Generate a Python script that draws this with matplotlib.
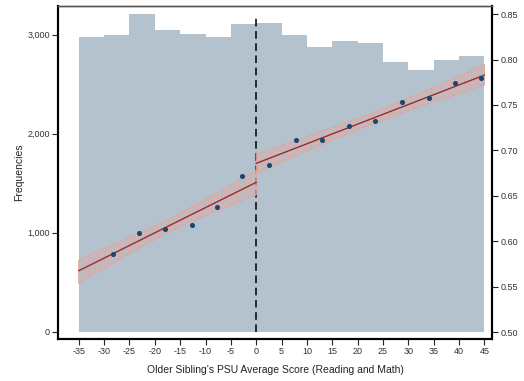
import numpy as np
import matplotlib
matplotlib.use('Agg')
import matplotlib.pyplot as plt
from matplotlib.ticker import FuncFormatter

plt.rcParams['font.family'] = ['Liberation Sans', 'DejaVu Sans']
plt.rcParams['hatch.linewidth'] = 0.6

# --- данные ---
bin_left = [-35, -30, -25, -20, -15, -10, -5, 0, 5, 10, 15, 20, 25, 30, 35, 40]
bin_counts = [2977, 2997, 3209, 3047, 3007, 2977, 3108, 3118,
              3000, 2876, 2936, 2916, 2724, 2643, 2744, 2785]

pt_x = [-28.2, -23.1, -17.9, -12.65, -7.66, -2.73, 2.44, 7.76,
        13.0, 18.3, 23.4, 28.8, 34.0, 39.2, 44.4]
pt_y = [0.5855, 0.6093, 0.6137, 0.6174, 0.6372, 0.6714, 0.6841, 0.7113,
        0.7113, 0.7264, 0.7326, 0.7528, 0.7572, 0.7744, 0.7792]

fit_left_x = [-35, -26.25, -17.5, -8.75, 0]
fit_left_y = [0.5675, 0.5918, 0.6162, 0.6405, 0.6648]
fit_left_lo = [0.5536, 0.5823, 0.6092, 0.6310, 0.6510]
fit_left_hi = [0.5792, 0.6013, 0.6232, 0.6500, 0.6780]

fit_right_x = [0, 11.25, 22.5, 33.75, 45]
fit_right_y = [0.6857, 0.7100, 0.7343, 0.7586, 0.7829]
fit_right_lo = [0.6750, 0.7025, 0.7283, 0.7511, 0.7718]
fit_right_hi = [0.6959, 0.7175, 0.7403, 0.7661, 0.7946]

x_ticks = list(range(-35, 50, 5))

hist_color = '#b3c2cd'
band_edge = '#dfa8a2'
line_color = '#9e2a2b'
pt_color = '#1a476f'

fig = plt.figure(figsize=(5.24, 3.81), dpi=100)
ax = fig.add_axes([0.1107, 0.1102, 0.8282, 0.8741])
ax2 = ax.twinx()

# гистограмма
ax.bar(bin_left, bin_counts, width=5, align='edge', color=hist_color,
       edgecolor='none', linewidth=0)
ax.vlines(0, 0, 3190, colors='black', linestyles=(0, (5, 3)), lw=1.1, zorder=3)

ax.set_xlim(-39.1, 46.5)
ax.set_ylim(-75, 3290)
ax.set_yticks([0, 1000, 2000, 3000])
ax.yaxis.set_major_formatter(FuncFormatter(lambda v, p: f'{int(v):,}'))
ax.set_xticks(x_ticks)
ax.set_xticklabels([str(v) for v in x_ticks])

# доверительные полосы и линии
for fx, fy, lo, hi in [(fit_left_x, fit_left_y, fit_left_lo, fit_left_hi),
                       (fit_right_x, fit_right_y, fit_right_lo, fit_right_hi)]:
    ax2.fill_between(fx, lo, hi, facecolor=(0.88, 0.68, 0.66, 0.30),
                     edgecolor=band_edge, hatch='|||||', linewidth=0.8)
    ax2.plot(fx, fy, color=line_color, lw=1.0)

ax2.scatter(pt_x, pt_y, s=7, color=pt_color, zorder=5)
ax2.set_ylim(0.4923, 0.859)
ax2.set_yticks(np.arange(0.50, 0.851, 0.05))
ax2.yaxis.set_major_formatter(FuncFormatter(lambda v, p: f'{v:.2f}'))

for a in (ax, ax2):
    a.tick_params(labelsize=6.5, length=4, width=0.8, direction='out',
                  colors='#222222', labelcolor='#333333', pad=2)
    for s in ['left', 'bottom', 'right']:
        a.spines[s].set_linewidth(1.5)
    a.spines['top'].set_linewidth(1.0)
    a.spines['top'].set_color('#555555')

ax.set_ylabel('Frequencies', fontsize=7.5, labelpad=2, color='#222222')
ax.set_xlabel("Older Sibling's PSU Average Score (Reading and Math)", fontsize=7.5,
              labelpad=6, color='#222222')

fig.savefig('out.png', dpi=100)
